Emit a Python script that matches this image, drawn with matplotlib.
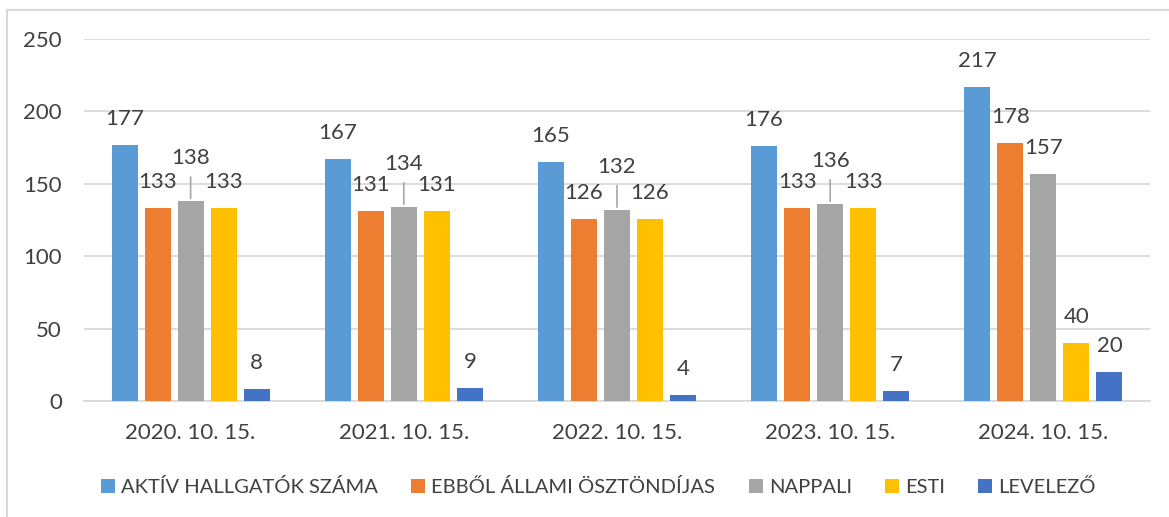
import matplotlib.pyplot as plt
import numpy as np
from matplotlib.lines import Line2D
from matplotlib.patches import Patch

plt.rcParams['font.family'] = ['Lato', 'DejaVu Sans']

dates = ['2020. 10. 15.', '2021. 10. 15.', '2022. 10. 15.', '2023. 10. 15.', '2024. 10. 15.']
series = ['AKTÍV HALLGATÓK SZÁMA', 'EBBŐL ÁLLAMI ÖSZTÖNDÍJAS', 'NAPPALI', 'ESTI', 'LEVELEZŐ']
aktiv = [177, 167, 165, 176, 217]
allami = [133, 131, 126, 133, 178]
nappali = [138, 134, 132, 136, 157]
esti = [133, 131, 126, 133, 40]
levelezo = [8, 9, 4, 7, 20]
colors = ['#5B9BD5', '#ED7D31', '#A5A5A5', '#FFC000', '#4472C4']
yticks = [0, 50, 100, 150, 200, 250]

txt = '#404040'
grid = '#D9D9D9'

fig = plt.figure(figsize=(11.69, 5.17), dpi=100)
ax = fig.add_axes([84 / 1169, 1 - 401 / 517, (1150 - 84) / 1169, (401 - 39) / 517])

x = np.arange(len(dates))
step = 0.155
width = 0.122
data = [aktiv, allami, nappali, esti, levelezo]

for i, (vals, c) in enumerate(zip(data, colors)):
    pos = x + (i - 2) * step
    ax.bar(pos, vals, width, color=c, zorder=3)
    for j, (px, v) in enumerate(zip(pos, vals)):
        # Excel moved the NAPPALI labels up with a leader line in the first four groups
        if i == 2 and j < 4:
            ax.annotate(str(v), (px, v), xytext=(0, 43), textcoords='offset pixels',
                        ha='center', va='center', fontsize=16, color=txt)
            ax.annotate('', (px, v), xytext=(0, 27), textcoords='offset pixels',
                        arrowprops=dict(arrowstyle='-', color='#A6A6A6', lw=1.2))
        else:
            ax.annotate(str(v), (px, v), xytext=(0, 26), textcoords='offset pixels',
                        ha='center', va='center', fontsize=16, color=txt)

ax.set_xlim(-0.5, 4.5)
ax.set_ylim(0, 250)
ax.set_yticks(yticks)
ax.set_xticks(x)
ax.set_xticklabels(dates)
ax.tick_params(axis='both', length=0, labelsize=16, colors=txt)
ax.tick_params(axis='y', pad=16)
ax.tick_params(axis='x', pad=16)
ax.yaxis.grid(True, color=grid, lw=1.3, zorder=0)
for s in ['top', 'right', 'left']:
    ax.spines[s].set_visible(False)
ax.spines['bottom'].set_color(grid)
ax.spines['bottom'].set_linewidth(1.3)

handles = [Patch(facecolor=c, edgecolor='none') for c in colors]
fig.legend(handles, series, loc='center', bbox_to_anchor=(0.512, 1 - 487 / 517), ncol=5,
           frameon=False, fontsize=14.5, labelcolor=txt, handlelength=0.7, handleheight=0.7,
           handletextpad=0.3, columnspacing=1.65)

# outer chart frame
fig.add_artist(Line2D([7 / 1169, 7 / 1169], [0, 1 - 10 / 517], transform=fig.transFigure,
                      color=grid, lw=1.5))
fig.add_artist(Line2D([7 / 1169, 1], [1 - 10 / 517, 1 - 10 / 517], transform=fig.transFigure,
                      color=grid, lw=1.5))

fig.savefig('out.png', dpi=100)
